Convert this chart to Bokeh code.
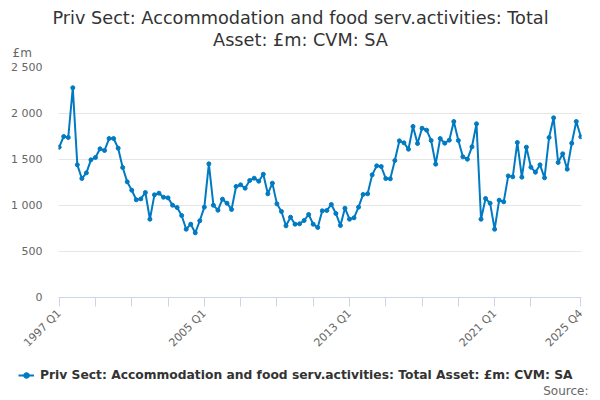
"""Priv Sect: Accommodation and food serv.activities: Total Asset (£m, CVM, SA)."""

from math import pi

from bokeh.embed import file_html
from bokeh.layouts import column
from bokeh.models import ColumnDataSource, FixedTicker, Label, Legend, LegendItem, Range1d
from bokeh.plotting import figure
from bokeh.resources import INLINE

FONT = "DejaVu Sans"
BLUE = "#007ac2"
TOTAL_WIDTH = 592

TITLE_LINES = ["Priv Sect: Accommodation and food serv.activities: Total", "Asset: £m: CVM: SA"]
SERIES_NAME = "Priv Sect: Accommodation and food serv.activities: Total Asset: £m: CVM: SA"

years = list(range(1997, 2026))
quarters = ["Q1", "Q2", "Q3", "Q4"]

# quarterly values, £m, 1997 Q1 .. 2025 Q4
amounts = [
    1634, 1750, 1739, 2280,
    1442, 1293, 1355, 1496,
    1522, 1616, 1598, 1728,
    1728, 1623, 1413, 1257,
    1166, 1062, 1072, 1141,
    851, 1116, 1134, 1090,
    1083, 1003, 978, 891,
    742, 797, 703, 834,
    982, 1453, 1003, 949,
    1069, 1025, 957, 1207,
    1225, 1188, 1272, 1297,
    1264, 1340, 1127, 1243,
    1018, 935, 779, 873,
    797, 801, 837, 902,
    797, 761, 942, 946,
    1011, 913, 783, 971,
    851, 866, 982, 1120,
    1127, 1333, 1431, 1424,
    1293, 1290, 1489, 1703,
    1681, 1612, 1859, 1674,
    1840, 1819, 1707, 1449,
    1728, 1677, 1710, 1913,
    1707, 1529, 1503, 1638,
    1888, 851, 1076, 1025,
    742, 1058, 1040, 1322,
    1312, 1685, 1308, 1634,
    1416, 1362, 1442, 1301,
    1739, 1953, 1467, 1562,
    1395, 1677, 1913, 1747,
]

periods = [f"{y} {q}" for y in years for q in quarters]

# x axis: tick every 8 quarters, labels only on a few of them
x_labelled = ["1997 Q1", "2005 Q1", "2013 Q1", "2021 Q1", "2025 Q4"]
y_ticks = [0, 500, 1000, 1500, 2000, 2500]
y_tick_labels = ["0", "500", "1 000", "1 500", "2 000", "2 500"]


def blank_strip(height):
    """A figure with no axes whose frame fills the whole canvas (used for header/footer text)."""
    f = figure(width=TOTAL_WIDTH, height=height, x_range=Range1d(0, 1), y_range=Range1d(0, 1),
               toolbar_location=None, output_backend="svg", frame_align=False,
               min_border=0, min_border_left=0, min_border_right=0,
               min_border_top=0, min_border_bottom=0)
    f.axis.visible = False
    f.grid.grid_line_color = None
    f.outline_line_color = None
    return f


def text(x, y, txt, size, color, align="left", style="normal"):
    return Label(x=x, y=y, x_units="screen", y_units="screen", text=txt,
                 text_font=FONT, text_font_size=size, text_font_style=style,
                 text_color=color, text_align=align, text_baseline="middle")


# header: title on two lines plus the unit label
head = blank_strip(60)
head.add_layout(text(300, 43, TITLE_LINES[0], "17.7px", "#333333", align="center"))
head.add_layout(text(300, 21, TITLE_LINES[1], "17.7px", "#333333", align="center"))
head.add_layout(text(12, 8, "£m", "12px", "#666666"))

# main chart
source = ColumnDataSource(data=dict(idx=list(range(len(periods))), period=periods, amount=amounts))

p = figure(
    width=TOTAL_WIDTH,
    height=298,
    x_range=Range1d(-0.15, len(periods) - 1 + 0.15),
    y_range=Range1d(0, 2500),
    toolbar_location=None,
    output_backend="svg",
    frame_align=False,
    min_border_left=58,
    min_border_right=11,
    min_border_top=7,
    min_border_bottom=61,
)
p.title = None

p.line(x="idx", y="amount", source=source, line_color=BLUE, line_width=2)
p.scatter(x="idx", y="amount", source=source, size=4, fill_color=BLUE, line_color=BLUE)

x_tick_pos = list(range(0, len(periods) - 4, 8)) + [len(periods) - 1]
p.xaxis.ticker = FixedTicker(ticks=x_tick_pos)
p.xaxis.major_label_overrides = {
    i: (periods[i] if periods[i] in x_labelled else "") for i in x_tick_pos
}
p.xaxis.major_label_orientation = pi / 4
p.xaxis.major_label_text_font = FONT
p.xaxis.major_label_text_font_size = "11px"
p.xaxis.major_label_text_color = "#666666"
p.xaxis.axis_line_color = "#ccd6eb"
p.xaxis.major_tick_line_color = "#ccd6eb"
p.xaxis.major_tick_in = 0
p.xaxis.major_tick_out = 9
p.xaxis.minor_tick_line_color = None

p.yaxis.ticker = FixedTicker(ticks=y_ticks)
p.yaxis.major_label_overrides = dict(zip(y_ticks, y_tick_labels))
p.yaxis.major_label_text_font = FONT
p.yaxis.major_label_text_font_size = "11px"
p.yaxis.major_label_text_color = "#666666"
p.yaxis.major_label_standoff = 16
p.yaxis.axis_line_color = None
p.yaxis.major_tick_line_color = None
p.yaxis.major_tick_in = 0
p.yaxis.major_tick_out = 0
p.yaxis.minor_tick_line_color = None

p.xgrid.grid_line_color = None
p.ygrid.grid_line_color = "#e6e6e6"
p.outline_line_color = None

# footer: legend and source note; the key renderers share the series data but fall
# outside the strip's 0..1 ranges, so only their legend swatch shows
foot = blank_strip(40)
key_line = foot.line(x="idx", y="amount", source=source, line_color=BLUE, line_width=2)
key_dot = foot.scatter(x="idx", y="amount", source=source, size=4, fill_color=BLUE, line_color=BLUE)
legend = Legend(
    items=[LegendItem(label=SERIES_NAME, renderers=[key_line, key_dot])],
    location=(18, 16),
    orientation="horizontal",
    label_text_font=FONT,
    label_text_font_size="12.3px",
    label_text_font_style="bold",
    label_text_color="#333333",
    glyph_width=16,
    glyph_height=14,
    label_standoff=6,
    label_height=14,
    border_line_color=None,
    background_fill_alpha=0,
    margin=0,
    padding=4,
)
foot.add_layout(legend, "center")
foot.add_layout(text(588, 8, "Source:", "12px", "#666666", align="right"))

open("out.html", "w").write(file_html(column(head, p, foot), INLINE))
